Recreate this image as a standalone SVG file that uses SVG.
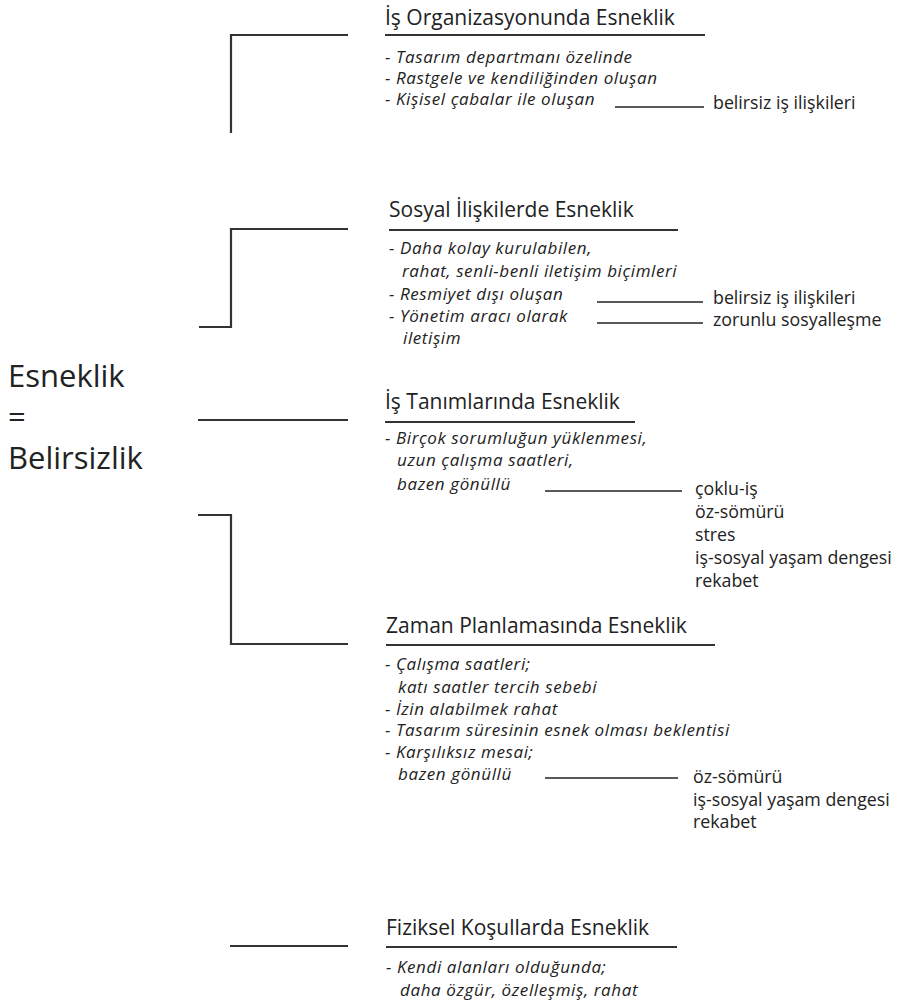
<svg xmlns="http://www.w3.org/2000/svg" width="920" height="1005" viewBox="0 0 920 1005">
<style>
text{font-family:"Open Sans","Noto Sans","Liberation Sans",sans-serif;fill:#222}
.h{font-size:21px}
.b{font-size:17px;font-style:italic;letter-spacing:0.6px}
.r{font-size:17.8px}
.big{font-size:31px}
.ul{stroke:#333;stroke-width:2.2;fill:none}
.br{stroke:#333;stroke-width:2.2;fill:none}
.cn{stroke:#222;stroke-width:1.3;fill:none}
</style>
<rect width="920" height="1005" fill="#fff"/>
<g id="title">
<text class="big" x="8" y="387">Esneklik</text>
<text class="big" x="8" y="428">=</text>
<text class="big" x="8" y="469">Belirsizlik</text>
</g>
<g id="connectors">
<path class="br" d="M231,133 V35 H348"/>
<path class="br" d="M199,327 H231 V229 H348"/>
<path class="br" d="M198,420 H348"/>
<path class="br" d="M198,515 H231 V644 H348"/>
<path class="br" d="M230,946 H348"/>
<path class="cn" d="M615,107 H704"/>
<path class="cn" d="M597,302 H703"/>
<path class="cn" d="M597,323 H703"/>
<path class="cn" d="M545,491 H682"/>
<path class="cn" d="M545,778 H678"/>
</g>
<g id="is-organizasyonu">
<text class="h" x="385" y="25">İş Organizasyonunda Esneklik</text>
<path class="ul" d="M385,35 H705"/>
<text class="b" x="385" y="63">- Tasarım departmanı özelinde</text>
<text class="b" x="385" y="84">- Rastgele ve kendiliğinden oluşan</text>
<text class="b" x="385" y="105">- Kişisel çabalar ile oluşan</text>
<text class="r" x="713" y="109">belirsiz iş ilişkileri</text>
</g>
<g id="sosyal-iliskiler">
<text class="h" x="389" y="217">Sosyal İlişkilerde Esneklik</text>
<path class="ul" d="M389,230 H678"/>
<text class="b" x="389" y="254">- Daha kolay kurulabilen,</text>
<text class="b" x="402" y="277">rahat, senli-benli iletişim biçimleri</text>
<text class="b" x="389" y="300">- Resmiyet dışı oluşan</text>
<text class="b" x="389" y="322">- Yönetim aracı olarak</text>
<text class="b" x="403" y="344">iletişim</text>
<text class="r" x="713" y="304">belirsiz iş ilişkileri</text>
<text class="r" x="713" y="326">zorunlu sosyalleşme</text>
</g>
<g id="is-tanimlari">
<text class="h" x="385" y="409">İş Tanımlarında Esneklik</text>
<path class="ul" d="M385,422 H635"/>
<text class="b" x="385" y="444">- Birçok sorumluğun yüklenmesi,</text>
<text class="b" x="397" y="466">uzun çalışma saatleri,</text>
<text class="b" x="397" y="490">bazen gönüllü</text>
<text class="r" x="695" y="495">çoklu-iş</text>
<text class="r" x="695" y="518">öz-sömürü</text>
<text class="r" x="695" y="541">stres</text>
<text class="r" x="695" y="564">iş-sosyal yaşam dengesi</text>
<text class="r" x="695" y="587">rekabet</text>
</g>
<g id="zaman-planlamasi">
<text class="h" x="386" y="633">Zaman Planlamasında Esneklik</text>
<path class="ul" d="M386,645 H715"/>
<text class="b" x="385" y="670">- Çalışma saatleri;</text>
<text class="b" x="398" y="693">katı saatler tercih sebebi</text>
<text class="b" x="385" y="715">- İzin alabilmek rahat</text>
<text class="b" x="385" y="736">- Tasarım süresinin esnek olması beklentisi</text>
<text class="b" x="385" y="758">- Karşılıksız mesai;</text>
<text class="b" x="398" y="780">bazen gönüllü</text>
<text class="r" x="693" y="783">öz-sömürü</text>
<text class="r" x="693" y="806">iş-sosyal yaşam dengesi</text>
<text class="r" x="693" y="828">rekabet</text>
</g>
<g id="fiziksel-kosullar">
<text class="h" x="386" y="935">Fiziksel Koşullarda Esneklik</text>
<path class="ul" d="M386,947 H677"/>
<text class="b" x="386" y="973">- Kendi alanları olduğunda;</text>
<text class="b" x="400" y="996">daha özgür, özelleşmiş, rahat</text>
</g>
</svg>
